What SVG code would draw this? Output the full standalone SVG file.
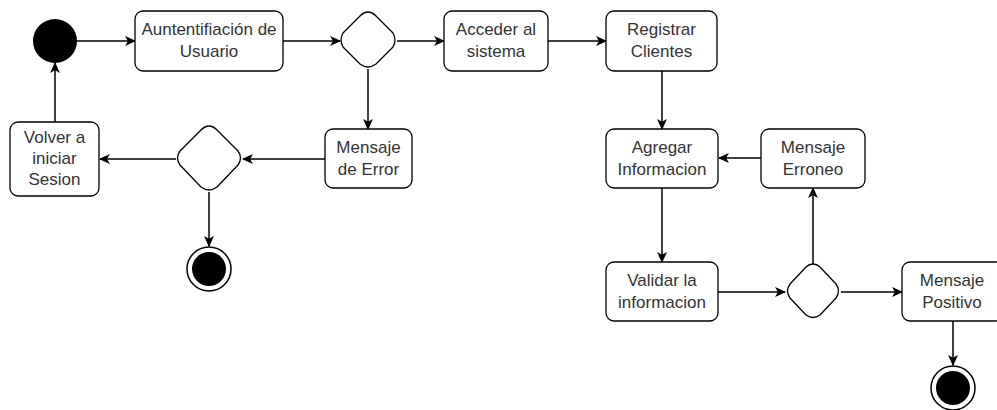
<svg xmlns="http://www.w3.org/2000/svg" width="997" height="410" viewBox="0 0 997 410">
  <style>
    .box { fill: #ffffff; stroke: #000000; stroke-width: 1.3; }
    .dec { fill: #ffffff; stroke: #000000; stroke-width: 1.3; stroke-linejoin: round; }
    .lbl { font-family: "Liberation Sans", Arial, sans-serif; font-size: 17px; fill: #333333; text-anchor: middle; }
    .edge { fill: none; stroke: #000000; stroke-width: 1.5; marker-end: url(#arrow); }
  </style>
  <defs>
    <marker id="arrow" viewBox="0 0 10 10" refX="9" refY="5" markerWidth="11" markerHeight="11" markerUnits="userSpaceOnUse" orient="auto">
      <path d="M0,0.5 L10,5 L0,9.5 L2.5,5 Z" fill="#000000"/>
    </marker>
  </defs>
  <rect width="997" height="410" fill="#ffffff"/>

  <!-- connectors -->
  <g id="edges">
    <path class="edge" d="M77,41 L135,41"/>
    <path class="edge" d="M283,41 L340,41"/>
    <path class="edge" d="M397,41 L444,41"/>
    <path class="edge" d="M548,41 L606,41"/>
    <path class="edge" d="M368,69 L368,129"/>
    <path class="edge" d="M325,159 L243,159"/>
    <path class="edge" d="M176,159 L100,159"/>
    <path class="edge" d="M209,192 L209,246"/>
    <path class="edge" d="M55,122 L55,63"/>
    <path class="edge" d="M662,71 L662,129"/>
    <path class="edge" d="M761,158 L719,158"/>
    <path class="edge" d="M662,188 L662,262"/>
    <path class="edge" d="M718,292 L785,292"/>
    <path class="edge" d="M841,292 L902,292"/>
    <path class="edge" d="M813,264 L813,188"/>
    <path class="edge" d="M953,321 L953,365"/>
  </g>

  <!-- start -->
  <g id="start">
    <circle cx="55" cy="41" r="22" fill="#000000"/>
  </g>

  <g id="auth">
    <rect class="box" x="135" y="11" width="148" height="60" rx="8"/>
    <text class="lbl" x="209" y="35">Auntentifiación de</text>
    <text class="lbl" x="209" y="57">Usuario</text>
  </g>

  <g id="decision1">
    <path class="dec" d="M368,12 Q372,12 376,16 L393,33 Q397,40 393,47 L376,64 Q368,70 360,64 L343,47 Q339,40 343,33 L360,16 Q364,12 368,12 Z"/>
  </g>

  <g id="acceder">
    <rect class="box" x="444" y="11" width="104" height="60" rx="8"/>
    <text class="lbl" x="496" y="35">Acceder al</text>
    <text class="lbl" x="496" y="57">sistema</text>
  </g>

  <g id="registrar">
    <rect class="box" x="606" y="11" width="111" height="60" rx="8"/>
    <text class="lbl" x="661.5" y="35">Registrar</text>
    <text class="lbl" x="661.5" y="57">Clientes</text>
  </g>

  <g id="error">
    <rect class="box" x="325" y="129" width="87" height="59" rx="8"/>
    <text class="lbl" x="368.5" y="153">Mensaje</text>
    <text class="lbl" x="368.5" y="175">de Error</text>
  </g>

  <g id="decision2">
    <path class="dec" d="M209,126 Q213,126 217,130 L238,151 Q243,158 238,165 L217,187 Q209,193 201,187 L180,165 Q175,158 180,151 L201,130 Q205,126 209,126 Z"/>
  </g>

  <g id="volver">
    <rect class="box" x="10" y="122" width="89" height="74" rx="8"/>
    <text class="lbl" x="54.5" y="143">Volver a</text>
    <text class="lbl" x="54.5" y="164">iniciar</text>
    <text class="lbl" x="54.5" y="185">Sesion</text>
  </g>

  <g id="end1">
    <circle cx="209" cy="269" r="22" fill="#ffffff" stroke="#000000" stroke-width="1.5"/>
    <circle cx="209" cy="269" r="17" fill="#000000"/>
  </g>

  <g id="agregar">
    <rect class="box" x="606" y="129" width="112" height="59" rx="8"/>
    <text class="lbl" x="662" y="153">Agregar</text>
    <text class="lbl" x="662" y="175">Informacion</text>
  </g>

  <g id="erroneo">
    <rect class="box" x="761" y="129" width="104" height="59" rx="8"/>
    <text class="lbl" x="813" y="153">Mensaje</text>
    <text class="lbl" x="813" y="175">Erroneo</text>
  </g>

  <g id="validar">
    <rect class="box" x="606" y="262" width="112" height="59" rx="8"/>
    <text class="lbl" x="662" y="286">Validar la</text>
    <text class="lbl" x="662" y="308">informacion</text>
  </g>

  <g id="decision3">
    <path class="dec" d="M813,264 Q817,264 820,267 L836,284 Q841,291 836,298 L820,315 Q813,320 806,315 L790,298 Q785,291 790,284 L806,267 Q809,264 813,264 Z"/>
  </g>

  <g id="positivo">
    <rect class="box" x="902" y="262" width="102" height="59" rx="8"/>
    <text class="lbl" x="952" y="286">Mensaje</text>
    <text class="lbl" x="952" y="308">Positivo</text>
  </g>

  <g id="end2">
    <circle cx="953" cy="388" r="22" fill="#ffffff" stroke="#000000" stroke-width="1.5"/>
    <circle cx="953" cy="388" r="17" fill="#000000"/>
  </g>
</svg>
